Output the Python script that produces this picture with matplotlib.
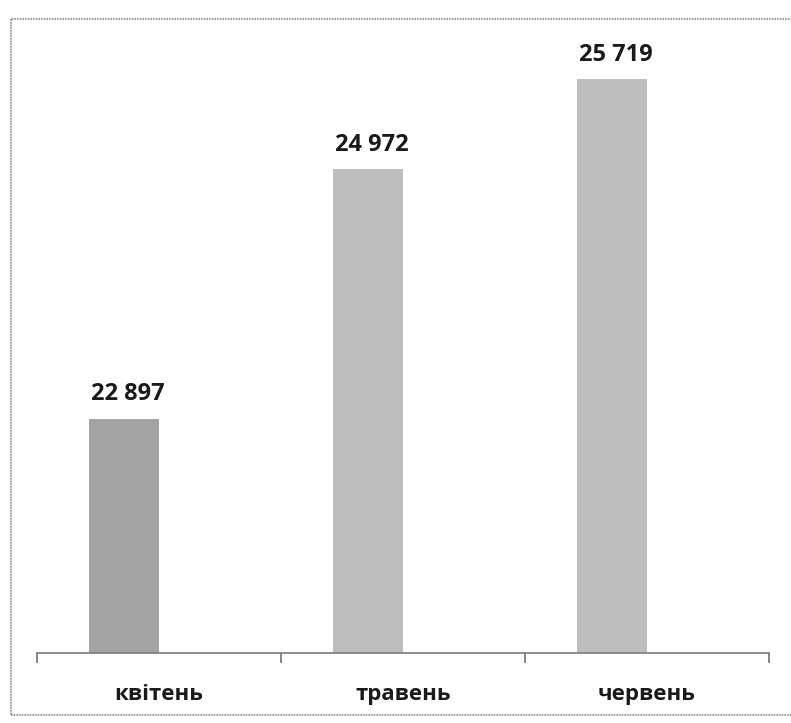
import matplotlib
matplotlib.use("Agg")
import matplotlib.pyplot as plt
from matplotlib.patches import Rectangle

months = ["квітень", "травень", "червень"]
values = [22897, 24972, 25719]
value_labels = ["22 897", "24 972", "25 719"]
bar_colors = ["#a3a3a3", "#bdbdbd", "#bdbdbd"]

W, H = 791, 723
fig = plt.figure(figsize=(W / 100, H / 100), dpi=100)
fig.patch.set_facecolor("white")

# outer chart frame (right edge runs past the canvas)
fig.add_artist(Rectangle((11 / W, 1 - 715 / H), 800 / W, (715 - 19) / H,
                         transform=fig.transFigure, fill=False,
                         edgecolor="#8c8c8c", linewidth=1.2, linestyle=(0, (1, 0.6))))

left_px, right_px = 37, 769
base_px, top_px = 653, 30
ax = fig.add_axes([left_px / W, 1 - base_px / H, (right_px - left_px) / W, (base_px - top_px) / H])
ax.set_facecolor("none")

y0 = 20950
ax.set_ylim(y0, y0 + (base_px - top_px) * 8.31)
ax.set_xlim(-0.5, len(months) - 0.5)

bw = 70 / 244
xs = list(range(len(months)))
ax.bar([x - bw / 2 for x in xs], [v - y0 for v in values], width=bw,
       bottom=y0, color=bar_colors, edgecolor="none")

label_font = ["Open Sans", "DejaVu Sans"]
for x, v, lab in zip(xs, values, value_labels):
    ax.annotate(lab, (x - bw / 2, v), xytext=(3, 9), textcoords="offset points",
                ha="center", va="bottom", fontsize=17, fontweight="bold",
                family=label_font, color="#1a1a1a")

for s in ["top", "right", "left"]:
    ax.spines[s].set_visible(False)
ax.spines["bottom"].set_color("#7a7a7a")
ax.spines["bottom"].set_linewidth(1.2)
ax.set_yticks([])

# tick marks sit on category boundaries, labels in the category centres
ax.set_xticks([-0.5 + i for i in range(len(months) + 1)])
ax.set_xticklabels([])
ax.tick_params(axis="x", direction="out", length=7, width=1.2, color="#6e6e6e")
ax.set_xticks(xs, minor=True)
ax.set_xticklabels(months, minor=True, fontsize=16, fontweight="bold",
                   family=label_font, color="#1a1a1a")
ax.tick_params(axis="x", which="minor", length=0, pad=22)

fig.savefig("out.png", dpi=100, facecolor="white")
